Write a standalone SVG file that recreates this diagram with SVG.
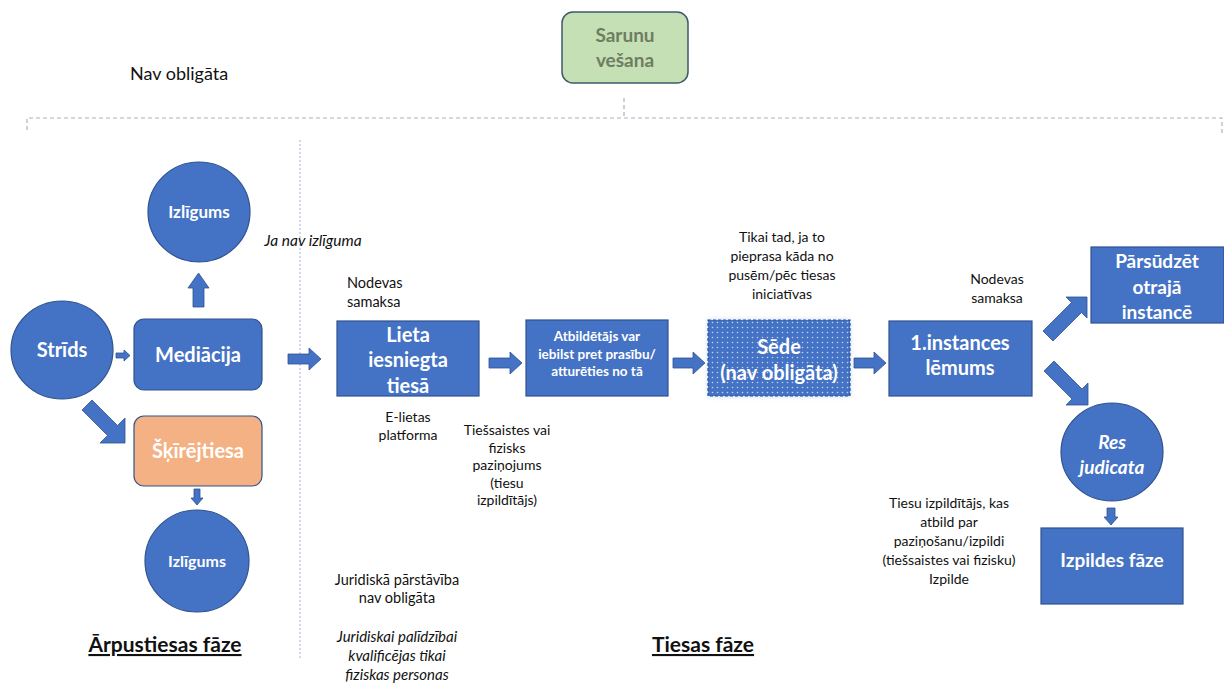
<svg xmlns="http://www.w3.org/2000/svg" width="1224" height="690" viewBox="0 0 1224 690">
<defs>
<pattern id="dots" width="5" height="5" patternUnits="userSpaceOnUse">
<rect width="5" height="5" fill="#4472c4"/>
<circle cx="2.5" cy="2.5" r="0.8" fill="#c3d3f0"/>
</pattern>
<filter id="glow" x="-10%" y="-10%" width="120%" height="120%">
<feGaussianBlur stdDeviation="2.5"/>
</filter>
</defs>
<style>
.blue{fill:#4472c4;stroke:#2f528f;stroke-width:1.2}
.arr{fill:#4472c4;stroke:#2f528f;stroke-width:0.8}
.nt{font-family:Lato,"Liberation Sans",sans-serif;font-weight:bold;fill:#fff;text-anchor:middle}
.lb{font-family:Lato,"Liberation Sans",sans-serif;font-size:14px;fill:#111;text-anchor:middle}
.it{font-style:italic}
.dash{fill:none;stroke:#a8b3c2;stroke-width:1.2;stroke-dasharray:4 3}
</style>
<rect width="1224" height="690" fill="#fff"/>

<g id="bracket">
<path class="dash" d="M27,130 V118 H1222 V135"/>
<path class="dash" d="M624,98 V118"/>
<line x1="300" y1="140" x2="300" y2="660" stroke="#9fb4d2" stroke-width="1" stroke-dasharray="2 2"/>
</g>

<g id="connectors">
<polygon class="arr" points="116,353 124,353 124,350 130,355.5 124,361 124,358 116,358"/>
<polygon class="arr" points="193,307 193,288 188,288 198.5,273 209,288 204,288 204,307"/>
<polygon class="arr" points="82,410 92,400 117.5,425.5 125,418 125,443 100,443 107.5,435.5"/>
<polygon class="arr" points="194,489 200,489 200,498 203,498 197,505 191,498 194,498"/>
<polygon class="arr" points="288,354 309,354 309,348 321,359 309,370 309,364 288,364"/>
<polygon class="arr" points="489,358 510,358 510,352 522,363 510,374 510,368 489,368"/>
<polygon class="arr" points="673,358 693,358 693,352 705,363 693,374 693,368 673,368"/>
<polygon class="arr" points="854,358 874,358 874,352 886,363 874,374 874,368 854,368"/>
<polygon class="arr" points="1043,331 1071.5,302.5 1066,297 1087,297 1087,318 1081.5,312.5 1053,341"/>
<polygon class="arr" points="1044,371 1054,361 1082,389 1088,383 1088,405 1066,405 1072,399"/>
<polygon class="arr" points="1107,508 1115,508 1115,517 1118,517 1111,525 1104,517 1107,517"/>
</g>

<g id="sarunu">
<rect x="562" y="12" width="126" height="71" rx="11" fill="#c5e0b4" stroke="#3d5a6c" stroke-width="1.5"/>
<text class="nt" x="625" y="42" font-size="19" style="fill:#6e7d62">Sarunu</text>
<text class="nt" x="625" y="67" font-size="19" style="fill:#6e7d62">vešana</text>
</g>

<g id="nav-obligata">
<text x="130" y="80" font-family="Lato,'Liberation Sans',sans-serif" font-size="18" fill="#111">Nav obligāta</text>
</g>

<g id="izligums-top">
<ellipse class="blue" cx="199" cy="212" rx="51" ry="50"/>
<text class="nt" x="199" y="218" font-size="17">Izlīgums</text>
</g>

<g id="strids">
<ellipse class="blue" cx="62" cy="350" rx="51" ry="49"/>
<text class="nt" x="62" y="357" font-size="20">Strīds</text>
</g>

<g id="mediacija">
<rect class="blue" x="134" y="319" width="128" height="71" rx="10"/>
<text class="nt" x="198" y="362" font-size="20">Mediācija</text>
</g>

<g id="skirejtiesa">
<rect x="134" y="416" width="128" height="70" rx="10" fill="#f4b183" stroke="#2f528f" stroke-width="1.2"/>
<text class="nt" x="198" y="458" font-size="20">Šķīrējtiesa</text>
</g>

<g id="izligums-bottom">
<ellipse class="blue" cx="197" cy="561" rx="52" ry="51"/>
<text class="nt" x="197" y="567" font-size="16">Izlīgums</text>
</g>

<g id="ja-nav">
<text class="lb it" x="313" y="246" style="font-size:15.5px">Ja nav izlīguma</text>
</g>

<g id="lieta">
<rect class="blue" x="337" y="321" width="142" height="75"/>
<text class="nt" x="408" y="342" font-size="20">Lieta</text>
<text class="nt" x="408" y="367" font-size="20">iesniegta</text>
<text class="nt" x="408" y="393" font-size="20">tiesā</text>
</g>
<g id="lieta-labels">
<text class="lb" x="347" y="288" style="text-anchor:start;font-size:14.5px">Nodevas</text>
<text class="lb" x="347" y="307" style="text-anchor:start;font-size:14.5px">samaksa</text>
<text class="lb" x="408" y="422">E-lietas</text>
<text class="lb" x="408" y="440">platforma</text>
</g>

<g id="atbildetajs">
<rect class="blue" x="526" y="320" width="142" height="76"/>
<text class="nt" x="597" y="341" font-size="13.5">Atbildētājs var</text>
<text class="nt" x="597" y="359" font-size="13.5">iebilst pret prasību/</text>
<text class="nt" x="597" y="376" font-size="13.5">atturēties no tā</text>
</g>
<g id="atbild-labels">
<text class="lb" x="507" y="435">Tiešsaistes vai</text>
<text class="lb" x="507" y="453">fizisks</text>
<text class="lb" x="507" y="470">paziņojums</text>
<text class="lb" x="507" y="488">(tiesu</text>
<text class="lb" x="507" y="505">izpildītājs)</text>
</g>

<g id="sede">
<rect x="708" y="320" width="142" height="76" fill="#8fb0e8" opacity="0.6" filter="url(#glow)"/>
<rect x="708" y="320" width="142" height="76" fill="url(#dots)" stroke="#2f528f" stroke-width="1.2" stroke-dasharray="3 2"/>
<text class="nt" x="779" y="354" font-size="20">Sēde</text>
<text class="nt" x="779" y="380" font-size="20">(nav obligāta)</text>
</g>
<g id="sede-labels">
<text class="lb" x="782" y="242">Tikai tad, ja to</text>
<text class="lb" x="782" y="261">pieprasa kāda no</text>
<text class="lb" x="782" y="280">pusēm/pēc tiesas</text>
<text class="lb" x="782" y="299">iniciatīvas</text>
</g>

<g id="pirma-instance">
<rect class="blue" x="889" y="321" width="143" height="75"/>
<text class="nt" x="960" y="350" font-size="20">1.instances</text>
<text class="nt" x="960" y="375" font-size="20">lēmums</text>
</g>
<g id="pirma-labels">
<text class="lb" x="997" y="284">Nodevas</text>
<text class="lb" x="997" y="303">samaksa</text>
</g>

<g id="parsudzet">
<rect class="blue" x="1091" y="247" width="133" height="76"/>
<text class="nt" x="1157" y="268" font-size="19">Pārsūdzēt</text>
<text class="nt" x="1157" y="294" font-size="19">otrajā</text>
<text class="nt" x="1157" y="319" font-size="19">instancē</text>
</g>

<g id="res-judicata">
<ellipse class="blue" cx="1112" cy="452" rx="51" ry="49"/>
<text class="nt it" x="1112" y="449" font-size="19">Res</text>
<text class="nt it" x="1112" y="474" font-size="19">judicata</text>
</g>

<g id="izpildes">
<rect class="blue" x="1041" y="528" width="142" height="76"/>
<text class="nt" x="1112" y="567" font-size="19">Izpildes fāze</text>
</g>
<g id="izpildes-labels">
<text class="lb" x="949" y="508">Tiesu izpildītājs, kas</text>
<text class="lb" x="949" y="527">atbild par</text>
<text class="lb" x="949" y="546">paziņošanu/izpildi</text>
<text class="lb" x="949" y="565">(tiešsaistes vai fizisku)</text>
<text class="lb" x="949" y="584">Izpilde</text>
</g>

<g id="juridiska">
<text class="lb" x="397" y="585" style="font-size:14.5px">Juridiskā pārstāvība</text>
<text class="lb" x="397" y="603" style="font-size:14.5px">nav obligāta</text>
<text class="lb it" x="397" y="642" style="font-size:15px">Juridiskai palīdzībai</text>
<text class="lb it" x="397" y="661" style="font-size:15px">kvalificējas tikai</text>
<text class="lb it" x="397" y="680" style="font-size:15px">fiziskas personas</text>
</g>

<g id="phase-titles">
<text x="165" y="652" font-family="Lato,'Liberation Sans',sans-serif" font-size="21" font-weight="bold" fill="#111" text-anchor="middle" text-decoration="underline">Ārpustiesas fāze</text>
<text x="703" y="652" font-family="Lato,'Liberation Sans',sans-serif" font-size="21" font-weight="bold" fill="#111" text-anchor="middle" text-decoration="underline">Tiesas fāze</text>
</g>
</svg>
